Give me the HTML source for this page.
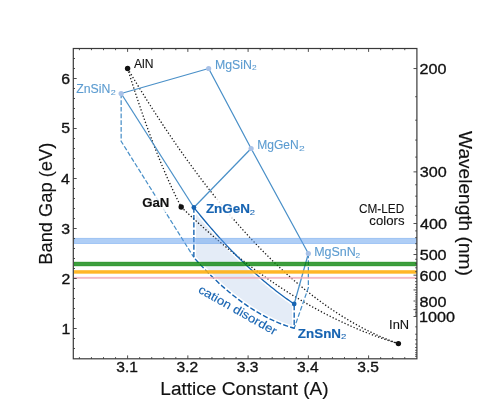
<!DOCTYPE html><html><head><meta charset="utf-8"><style>html,body{margin:0;padding:0;background:#fff;overflow:hidden}svg{display:block;will-change:transform}</style></head><body><svg width="480" height="403" viewBox="0 0 480 403"><rect x="0" y="0" width="480" height="403" fill="#fff"/>
<defs><clipPath id="ax"><rect x="73.3" y="48.5" width="343.6" height="310.3"/></clipPath></defs>
<g clip-path="url(#ax)">
<path d="M193.87 207.50 L195.55 209.58 L197.22 211.65 L198.89 213.70 L200.56 215.74 L202.23 217.76 L203.91 219.76 L205.58 221.75 L207.25 223.72 L208.92 225.67 L210.59 227.61 L212.27 229.53 L213.94 231.44 L215.61 233.33 L217.28 235.20 L218.95 237.06 L220.63 238.90 L222.30 240.73 L223.97 242.54 L225.64 244.33 L227.31 246.11 L228.99 247.87 L230.66 249.62 L232.33 251.35 L234.00 253.06 L235.67 254.76 L237.35 256.44 L239.02 258.10 L240.69 259.75 L242.36 261.38 L244.03 263.00 L245.71 264.60 L247.38 266.18 L249.05 267.75 L250.72 269.30 L252.39 270.84 L254.06 272.36 L255.74 273.86 L257.41 275.35 L259.08 276.82 L260.75 278.28 L262.42 279.72 L264.10 281.14 L265.77 282.55 L267.44 283.94 L269.11 285.31 L270.78 286.67 L272.46 288.01 L274.13 289.34 L275.80 290.65 L277.47 291.94 L279.14 293.22 L280.82 294.48 L282.49 295.73 L284.16 296.96 L285.83 298.17 L287.50 299.37 L289.18 300.55 L290.85 301.72 L292.52 302.87 L294.19 304.00 L294.19 328.25 L292.52 327.77 L290.85 327.26 L289.18 326.73 L287.50 326.18 L285.83 325.60 L284.16 325.00 L282.49 324.38 L280.82 323.73 L279.14 323.06 L277.47 322.36 L275.80 321.64 L274.13 320.90 L272.46 320.13 L270.78 319.34 L269.11 318.53 L267.44 317.69 L265.77 316.83 L264.10 315.95 L262.42 315.04 L260.75 314.11 L259.08 313.16 L257.41 312.18 L255.74 311.18 L254.06 310.15 L252.39 309.10 L250.72 308.03 L249.05 306.93 L247.38 305.81 L245.71 304.67 L244.03 303.50 L242.36 302.31 L240.69 301.09 L239.02 299.86 L237.35 298.59 L235.67 297.31 L234.00 296.00 L232.33 294.67 L230.66 293.31 L228.99 291.93 L227.31 290.53 L225.64 289.10 L223.97 287.65 L222.30 286.18 L220.63 284.68 L218.95 283.16 L217.28 281.61 L215.61 280.04 L213.94 278.45 L212.27 276.83 L210.59 275.19 L208.92 273.53 L207.25 271.84 L205.58 270.13 L203.91 268.40 L202.23 266.64 L200.56 264.86 L198.89 263.06 L197.22 261.23 L195.55 259.38 L193.87 257.50 Z" fill="#e4ecf7" stroke="#fff" stroke-width="4.4" stroke-linejoin="round"/>
<path d="M127.60 68.50 L128.49 71.38 L129.39 74.24 L130.28 77.09 L131.17 79.91 L132.07 82.72 L132.96 85.50 L133.86 88.27 L134.75 91.01 L135.64 93.74 L136.54 96.44 L137.43 99.13 L138.32 101.80 L139.22 104.45 L140.11 107.08 L141.01 109.69 L141.90 112.28 L142.79 114.85 L143.69 117.40 L144.58 119.93 L145.47 122.44 L146.37 124.94 L147.26 127.41 L148.16 129.87 L149.05 132.30 L149.94 134.72 L150.84 137.11 L151.73 139.49 L152.62 141.84 L153.52 144.18 L154.41 146.50 L155.30 148.80 L156.20 151.08 L157.09 153.34 L157.99 155.58 L158.88 157.80 L159.77 160.00 L160.67 162.18 L161.56 164.34 L162.45 166.49 L163.35 168.61 L164.24 170.72 L165.14 172.80 L166.03 174.87 L166.92 176.91 L167.82 178.94 L168.71 180.94 L169.60 182.93 L170.50 184.90 L171.39 186.85 L172.29 188.78 L173.18 190.69 L174.07 192.58 L174.97 194.45 L175.86 196.30 L176.75 198.13 L177.65 199.94 L178.54 201.74 L179.44 203.51 L180.33 205.27 L181.22 207.00" stroke="#1a1a1a" stroke-width="1.3" stroke-dasharray="1.3 2.0" fill="none"/>
<path d="M127.60 68.50 L129.86 72.29 L132.11 76.05 L134.37 79.79 L136.63 83.50 L138.88 87.19 L141.14 90.85 L143.40 94.49 L145.65 98.10 L147.91 101.69 L150.17 105.25 L152.43 108.79 L154.68 112.30 L156.94 115.79 L159.20 119.25 L161.45 122.68 L163.71 126.10 L165.97 129.48 L168.22 132.84 L170.48 136.18 L172.74 139.49 L174.99 142.77 L177.25 146.03 L179.51 149.27 L181.76 152.48 L184.02 155.66 L186.28 158.82 L188.54 161.96 L190.79 165.07 L193.05 168.15 L195.31 171.21 L197.56 174.25 L199.82 177.26 L202.08 180.24 L204.33 183.20 L206.59 186.13 L208.85 189.04 L211.10 191.92 L213.36 194.78 L215.62 197.61 L217.87 200.42 L220.13 203.20 L222.39 205.96 L224.65 208.69 L226.90 211.40 L229.16 214.08 L231.42 216.74 L233.67 219.37 L235.93 221.98 L238.19 224.56 L240.44 227.12 L242.70 229.65 L244.96 232.16 L247.21 234.64 L249.47 237.09 L251.73 239.52 L253.98 241.93 L256.24 244.31 L258.50 246.66 L260.76 248.99 L263.01 251.30 L265.27 253.58 L267.53 255.83 L269.78 258.06 L272.04 260.27 L274.30 262.45 L276.55 264.60 L278.81 266.73 L281.07 268.84 L283.32 270.91 L285.58 272.97 L287.84 275.00 L290.09 277.00 L292.35 278.98 L294.61 280.93 L296.86 282.86 L299.12 284.76 L301.38 286.64 L303.64 288.49 L305.89 290.32 L308.15 292.12 L310.41 293.90 L312.66 295.65 L314.92 297.38 L317.18 299.08 L319.43 300.76 L321.69 302.41 L323.95 304.03 L326.20 305.64 L328.46 307.21 L330.72 308.76 L332.97 310.29 L335.23 311.79 L337.49 313.26 L339.75 314.71 L342.00 316.14 L344.26 317.54 L346.52 318.91 L348.77 320.26 L351.03 321.59 L353.29 322.89 L355.54 324.16 L357.80 325.41 L360.06 326.64 L362.31 327.84 L364.57 329.01 L366.83 330.16 L369.08 331.28 L371.34 332.38 L373.60 333.45 L375.86 334.50 L378.11 335.52 L380.37 336.52 L382.63 337.49 L384.88 338.44 L387.14 339.36 L389.40 340.26 L391.65 341.13 L393.91 341.98 L396.17 342.80 L398.42 343.60" stroke="#1a1a1a" stroke-width="1.3" stroke-dasharray="1.3 2.0" fill="none"/>
<path d="M181.22 207.00 L183.03 208.74 L184.84 210.46 L186.65 212.18 L188.46 213.89 L190.27 215.59 L192.08 217.27 L193.89 218.95 L195.70 220.62 L197.51 222.27 L199.32 223.92 L201.13 225.56 L202.94 227.19 L204.75 228.80 L206.56 230.41 L208.37 232.00 L210.18 233.59 L211.99 235.17 L213.80 236.73 L215.61 238.29 L217.42 239.84 L219.23 241.37 L221.04 242.90 L222.85 244.41 L224.66 245.92 L226.47 247.42 L228.28 248.90 L230.09 250.38 L231.90 251.84 L233.71 253.30 L235.52 254.74 L237.33 256.18 L239.14 257.60 L240.95 259.02 L242.76 260.42 L244.57 261.82 L246.38 263.20 L248.19 264.58 L250.00 265.94 L251.81 267.30 L253.62 268.64 L255.43 269.98 L257.24 271.30 L259.05 272.62 L260.86 273.92 L262.67 275.22 L264.48 276.50 L266.29 277.78 L268.10 279.04 L269.91 280.29 L271.72 281.54 L273.53 282.77 L275.34 284.00 L277.15 285.21 L278.96 286.41 L280.77 287.61 L282.58 288.79 L284.39 289.96 L286.20 291.13 L288.01 292.28 L289.82 293.43 L291.63 294.56 L293.44 295.68 L295.25 296.79 L297.06 297.90 L298.87 298.99 L300.68 300.07 L302.49 301.15 L304.30 302.21 L306.11 303.26 L307.92 304.30 L309.73 305.34 L311.54 306.36 L313.35 307.37 L315.16 308.37 L316.97 309.37 L318.78 310.35 L320.59 311.32 L322.40 312.28 L324.21 313.24 L326.02 314.18 L327.83 315.11 L329.64 316.03 L331.45 316.94 L333.26 317.84 L335.07 318.74 L336.88 319.62 L338.69 320.49 L340.50 321.35 L342.31 322.20 L344.12 323.04 L345.93 323.87 L347.74 324.70 L349.55 325.51 L351.36 326.31 L353.17 327.10 L354.98 327.88 L356.79 328.65 L358.60 329.41 L360.41 330.16 L362.22 330.90 L364.03 331.63 L365.84 332.35 L367.65 333.06 L369.46 333.76 L371.27 334.45 L373.08 335.13 L374.89 335.80 L376.70 336.46 L378.51 337.11 L380.32 337.75 L382.13 338.38 L383.94 339.00 L385.75 339.61 L387.56 340.21 L389.37 340.80 L391.18 341.38 L392.99 341.95 L394.80 342.51 L396.61 343.06 L398.42 343.60" stroke="#1a1a1a" stroke-width="1.3" stroke-dasharray="1.3 2.0" fill="none"/>
<path d="M121.15 93.50 L208.64 68.50 L251.11 148.50 L308.35 253.50" stroke="#4a90c8" stroke-width="1.25" fill="none" stroke-linejoin="round"/>
<path d="M121.15 93.50 L193.87 207.50" stroke="#4a90c8" stroke-width="1.25" fill="none" stroke-linejoin="round"/>
<path d="M193.87 207.50 L251.11 148.50" stroke="#4a90c8" stroke-width="1.25" fill="none" stroke-linejoin="round"/>
<path d="M294.19 304.00 L308.35 253.50" stroke="#4a90c8" stroke-width="1.25" fill="none" stroke-linejoin="round"/>
<path d="M121.15 93.50 L121.15 141.25 L193.87 257.50" stroke="#4a90c8" stroke-width="1.25" stroke-dasharray="4.7 2.0" fill="none"/>
<path d="M308.35 253.50 L308.35 287.70 L294.19 328.25" stroke="#4a90c8" stroke-width="1.25" stroke-dasharray="4.7 2.0" fill="none"/>
<path d="M193.87 207.50 L195.55 209.58 L197.22 211.65 L198.89 213.70 L200.56 215.74 L202.23 217.76 L203.91 219.76 L205.58 221.75 L207.25 223.72 L208.92 225.67 L210.59 227.61 L212.27 229.53 L213.94 231.44 L215.61 233.33 L217.28 235.20 L218.95 237.06 L220.63 238.90 L222.30 240.73 L223.97 242.54 L225.64 244.33 L227.31 246.11 L228.99 247.87 L230.66 249.62 L232.33 251.35 L234.00 253.06 L235.67 254.76 L237.35 256.44 L239.02 258.10 L240.69 259.75 L242.36 261.38 L244.03 263.00 L245.71 264.60 L247.38 266.18 L249.05 267.75 L250.72 269.30 L252.39 270.84 L254.06 272.36 L255.74 273.86 L257.41 275.35 L259.08 276.82 L260.75 278.28 L262.42 279.72 L264.10 281.14 L265.77 282.55 L267.44 283.94 L269.11 285.31 L270.78 286.67 L272.46 288.01 L274.13 289.34 L275.80 290.65 L277.47 291.94 L279.14 293.22 L280.82 294.48 L282.49 295.73 L284.16 296.96 L285.83 298.17 L287.50 299.37 L289.18 300.55 L290.85 301.72 L292.52 302.87 L294.19 304.00" stroke="#1764b2" stroke-width="1.3" fill="none"/>
<path d="M193.87 207.50 L193.87 257.50 L195.55 259.38 L197.22 261.23 L198.89 263.06 L200.56 264.86 L202.23 266.64 L203.91 268.40 L205.58 270.13 L207.25 271.84 L208.92 273.53 L210.59 275.19 L212.27 276.83 L213.94 278.45 L215.61 280.04 L217.28 281.61 L218.95 283.16 L220.63 284.68 L222.30 286.18 L223.97 287.65 L225.64 289.10 L227.31 290.53 L228.99 291.93 L230.66 293.31 L232.33 294.67 L234.00 296.00 L235.67 297.31 L237.35 298.59 L239.02 299.86 L240.69 301.09 L242.36 302.31 L244.03 303.50 L245.71 304.67 L247.38 305.81 L249.05 306.93 L250.72 308.03 L252.39 309.10 L254.06 310.15 L255.74 311.18 L257.41 312.18 L259.08 313.16 L260.75 314.11 L262.42 315.04 L264.10 315.95 L265.77 316.83 L267.44 317.69 L269.11 318.53 L270.78 319.34 L272.46 320.13 L274.13 320.90 L275.80 321.64 L277.47 322.36 L279.14 323.06 L280.82 323.73 L282.49 324.38 L284.16 325.00 L285.83 325.60 L287.50 326.18 L289.18 326.73 L290.85 327.26 L292.52 327.77 L294.19 328.25 L294.19 304.00" stroke="#1764b2" stroke-width="1.4" stroke-dasharray="5.2 2.2" fill="none" stroke-linejoin="round"/>
<rect x="74.30" y="238.30" width="342.20" height="5.30" fill="rgb(96,158,238)" fill-opacity="0.50" stroke="rgb(96,158,238)" stroke-opacity="0.50" stroke-width="0.80"/>
<rect x="74.30" y="262.20" width="342.20" height="3.60" fill="rgb(0,128,0)" fill-opacity="0.76" stroke="rgb(0,128,0)" stroke-opacity="0.76" stroke-width="0.80"/>
<rect x="74.30" y="270.70" width="342.20" height="2.50" fill="rgb(255,176,20)" fill-opacity="0.90" stroke="rgb(255,176,20)" stroke-opacity="0.90" stroke-width="0.80"/>
<rect x="74.30" y="277.30" width="342.20" height="1.00" fill="rgb(240,170,185)" fill-opacity="0.75" stroke="rgb(240,170,185)" stroke-opacity="0.75" stroke-width="0.80"/>
<circle cx="121.15" cy="93.50" r="2.6" fill="#a9c2e8"/>
<circle cx="208.64" cy="68.50" r="2.6" fill="#a9c2e8"/>
<circle cx="251.11" cy="148.50" r="2.6" fill="#a9c2e8"/>
<circle cx="308.35" cy="253.50" r="2.6" fill="#a9c2e8"/>
<circle cx="193.87" cy="207.50" r="2.4" fill="#1764b2"/>
<circle cx="294.19" cy="304.00" r="2.4" fill="#1764b2"/>
<circle cx="127.60" cy="68.50" r="2.7" fill="#111111"/>
<circle cx="181.22" cy="207.00" r="2.7" fill="#111111"/>
<circle cx="398.42" cy="343.60" r="2.7" fill="#111111"/>
</g>
<rect x="73.3" y="48.5" width="343.6" height="310.3" fill="none" stroke="#3a3a3a" stroke-width="1.2"/>
<path d="M79.40 358.80 v-1.7 M79.40 48.50 v1.7 M91.45 358.80 v-1.7 M91.45 48.50 v1.7 M103.50 358.80 v-1.7 M103.50 48.50 v1.7 M115.55 358.80 v-1.7 M115.55 48.50 v1.7 M127.60 358.80 v-3.4 M127.60 48.50 v3.4 M139.65 358.80 v-1.7 M139.65 48.50 v1.7 M151.70 358.80 v-1.7 M151.70 48.50 v1.7 M163.75 358.80 v-1.7 M163.75 48.50 v1.7 M175.80 358.80 v-1.7 M175.80 48.50 v1.7 M187.85 358.80 v-3.4 M187.85 48.50 v3.4 M199.90 358.80 v-1.7 M199.90 48.50 v1.7 M211.95 358.80 v-1.7 M211.95 48.50 v1.7 M224.00 358.80 v-1.7 M224.00 48.50 v1.7 M236.05 358.80 v-1.7 M236.05 48.50 v1.7 M248.10 358.80 v-3.4 M248.10 48.50 v3.4 M260.15 358.80 v-1.7 M260.15 48.50 v1.7 M272.20 358.80 v-1.7 M272.20 48.50 v1.7 M284.25 358.80 v-1.7 M284.25 48.50 v1.7 M296.30 358.80 v-1.7 M296.30 48.50 v1.7 M308.35 358.80 v-3.4 M308.35 48.50 v3.4 M320.40 358.80 v-1.7 M320.40 48.50 v1.7 M332.45 358.80 v-1.7 M332.45 48.50 v1.7 M344.50 358.80 v-1.7 M344.50 48.50 v1.7 M356.55 358.80 v-1.7 M356.55 48.50 v1.7 M368.60 358.80 v-3.4 M368.60 48.50 v3.4 M380.65 358.80 v-1.7 M380.65 48.50 v1.7 M392.70 358.80 v-1.7 M392.70 48.50 v1.7 M404.75 358.80 v-1.7 M404.75 48.50 v1.7 M73.30 348.50 h1.7 M73.30 338.50 h1.7 M73.30 328.50 h3.4 M73.30 318.50 h1.7 M73.30 308.50 h1.7 M73.30 298.50 h1.7 M73.30 288.50 h1.7 M73.30 278.50 h3.4 M73.30 268.50 h1.7 M73.30 258.50 h1.7 M73.30 248.50 h1.7 M73.30 238.50 h1.7 M73.30 228.50 h3.4 M73.30 218.50 h1.7 M73.30 208.50 h1.7 M73.30 198.50 h1.7 M73.30 188.50 h1.7 M73.30 178.50 h3.4 M73.30 168.50 h1.7 M73.30 158.50 h1.7 M73.30 148.50 h1.7 M73.30 138.50 h1.7 M73.30 128.50 h3.4 M73.30 118.50 h1.7 M73.30 108.50 h1.7 M73.30 98.50 h1.7 M73.30 88.50 h1.7 M73.30 78.50 h3.4 M73.30 68.50 h1.7 M73.30 58.50 h1.7 M416.90 68.54 h-3.4 M416.90 96.72 h-1.7 M416.90 120.20 h-1.7 M416.90 140.07 h-1.7 M416.90 157.10 h-1.7 M416.90 171.86 h-3.4 M416.90 184.78 h-1.7 M416.90 196.17 h-1.7 M416.90 206.30 h-1.7 M416.90 215.36 h-1.7 M416.90 223.52 h-3.4 M416.90 230.90 h-1.7 M416.90 237.61 h-1.7 M416.90 243.73 h-1.7 M416.90 249.35 h-1.7 M416.90 254.52 h-3.4 M416.90 259.28 h-1.7 M416.90 263.70 h-1.7 M416.90 267.80 h-1.7 M416.90 271.62 h-1.7 M416.90 275.18 h-3.4 M416.90 278.51 h-1.7 M416.90 281.64 h-1.7 M416.90 284.57 h-1.7 M416.90 287.34 h-1.7 M416.90 289.94 h-3.4 M416.90 292.40 h-1.7 M416.90 294.73 h-1.7 M416.90 296.93 h-1.7 M416.90 299.02 h-1.7 M416.90 301.01 h-3.4 M416.90 302.90 h-1.7 M416.90 304.70 h-1.7 M416.90 306.42 h-1.7 M416.90 308.05 h-1.7 M416.90 309.62 h-3.4 M416.90 311.12 h-1.7 M416.90 312.55 h-1.7 M416.90 313.93 h-1.7 M416.90 315.24 h-1.7 M416.90 316.51 h-3.4 M416.90 326.84 h-1.7 M416.90 334.22 h-1.7 M416.90 339.75 h-1.7 M416.90 344.06 h-1.7 M416.90 347.50 h-1.7 M416.90 350.32 h-1.7 M416.90 352.67 h-1.7 M416.90 354.66 h-1.7 M416.90 356.36 h-1.7" stroke="#3a3a3a" stroke-width="0.9" fill="none"/>
<text x="61.45" y="333.56" font-size="14.70" fill="#111111" stroke="#111111" stroke-width="0.32" textLength="8.83" lengthAdjust="spacingAndGlyphs" font-family="'Liberation Sans', sans-serif">1</text>
<text x="61.47" y="283.63" font-size="14.70" fill="#111111" stroke="#111111" stroke-width="0.32" textLength="8.83" lengthAdjust="spacingAndGlyphs" font-family="'Liberation Sans', sans-serif">2</text>
<text x="61.37" y="233.56" font-size="14.70" fill="#111111" stroke="#111111" stroke-width="0.32" textLength="8.83" lengthAdjust="spacingAndGlyphs" font-family="'Liberation Sans', sans-serif">3</text>
<text x="61.14" y="183.56" font-size="14.70" fill="#111111" stroke="#111111" stroke-width="0.32" textLength="8.83" lengthAdjust="spacingAndGlyphs" font-family="'Liberation Sans', sans-serif">4</text>
<text x="61.34" y="133.48" font-size="14.70" fill="#111111" stroke="#111111" stroke-width="0.32" textLength="8.83" lengthAdjust="spacingAndGlyphs" font-family="'Liberation Sans', sans-serif">5</text>
<text x="61.37" y="83.56" font-size="14.70" fill="#111111" stroke="#111111" stroke-width="0.32" textLength="8.83" lengthAdjust="spacingAndGlyphs" font-family="'Liberation Sans', sans-serif">6</text>
<text x="116.35" y="372.36" font-size="14.70" fill="#111111" stroke="#111111" stroke-width="0.32" textLength="21.66" lengthAdjust="spacingAndGlyphs" font-family="'Liberation Sans', sans-serif">3.1</text>
<text x="176.61" y="372.36" font-size="14.70" fill="#111111" stroke="#111111" stroke-width="0.32" textLength="21.66" lengthAdjust="spacingAndGlyphs" font-family="'Liberation Sans', sans-serif">3.2</text>
<text x="236.82" y="372.36" font-size="14.70" fill="#111111" stroke="#111111" stroke-width="0.32" textLength="21.66" lengthAdjust="spacingAndGlyphs" font-family="'Liberation Sans', sans-serif">3.3</text>
<text x="296.95" y="372.36" font-size="14.70" fill="#111111" stroke="#111111" stroke-width="0.32" textLength="21.66" lengthAdjust="spacingAndGlyphs" font-family="'Liberation Sans', sans-serif">3.4</text>
<text x="357.30" y="372.36" font-size="14.70" fill="#111111" stroke="#111111" stroke-width="0.32" textLength="21.66" lengthAdjust="spacingAndGlyphs" font-family="'Liberation Sans', sans-serif">3.5</text>
<text x="419.49" y="74.10" font-size="14.70" fill="#111111" stroke="#111111" stroke-width="0.32" textLength="26.98" lengthAdjust="spacingAndGlyphs" font-family="'Liberation Sans', sans-serif">200</text>
<text x="419.68" y="177.42" font-size="14.70" fill="#111111" stroke="#111111" stroke-width="0.32" textLength="26.98" lengthAdjust="spacingAndGlyphs" font-family="'Liberation Sans', sans-serif">300</text>
<text x="419.93" y="229.08" font-size="14.70" fill="#111111" stroke="#111111" stroke-width="0.32" textLength="26.98" lengthAdjust="spacingAndGlyphs" font-family="'Liberation Sans', sans-serif">400</text>
<text x="419.65" y="260.08" font-size="14.70" fill="#111111" stroke="#111111" stroke-width="0.32" textLength="26.98" lengthAdjust="spacingAndGlyphs" font-family="'Liberation Sans', sans-serif">500</text>
<text x="419.48" y="280.74" font-size="14.70" fill="#111111" stroke="#111111" stroke-width="0.32" textLength="26.98" lengthAdjust="spacingAndGlyphs" font-family="'Liberation Sans', sans-serif">600</text>
<text x="419.60" y="306.57" font-size="14.70" fill="#111111" stroke="#111111" stroke-width="0.32" textLength="26.98" lengthAdjust="spacingAndGlyphs" font-family="'Liberation Sans', sans-serif">800</text>
<text x="419.07" y="322.07" font-size="14.70" fill="#111111" stroke="#111111" stroke-width="0.32" textLength="35.97" lengthAdjust="spacingAndGlyphs" font-family="'Liberation Sans', sans-serif">1000</text>
<text x="160.34" y="394.90" font-size="18.80" fill="#111111" stroke="#111111" stroke-width="0.15" textLength="168.34" lengthAdjust="spacingAndGlyphs" font-family="'Liberation Sans', sans-serif">Lattice Constant (A)</text>
<g transform="translate(0,0)">
<text transform="translate(52.3,264.70) rotate(-90)" font-size="18.80" fill="#111111" stroke="#111111" stroke-width="0.15" font-family="'Liberation Sans', sans-serif" textLength="122.04" lengthAdjust="spacingAndGlyphs">Band Gap (eV)</text>
<text transform="translate(459.1,131.12) rotate(90)" font-size="18.80" fill="#111111" stroke="#111111" stroke-width="0.15" font-family="'Liberation Sans', sans-serif" textLength="144.66" lengthAdjust="spacingAndGlyphs">Wavelength (nm)</text>
</g>
<rect x="141" y="196.5" width="29" height="15.5" fill="#fff" fill-opacity="0.8"/>
<rect x="204.5" y="198.5" width="52.5" height="19.5" fill="#fff" fill-opacity="0.85"/>
<text x="133.88" y="68.20" font-size="12.30" fill="#111111" stroke="#111111" stroke-width="0.10" textLength="19.51" lengthAdjust="spacingAndGlyphs" font-family="'Liberation Sans', sans-serif">AlN</text>
<text x="389.11" y="328.60" font-size="12.30" fill="#111111" stroke="#111111" stroke-width="0.10" textLength="20.04" lengthAdjust="spacingAndGlyphs" font-family="'Liberation Sans', sans-serif">InN</text>
<text x="359.00" y="212.60" font-size="12.30" fill="#111111" stroke="#111111" stroke-width="0.10" textLength="45.26" lengthAdjust="spacingAndGlyphs" font-family="'Liberation Sans', sans-serif">CM-LED</text>
<text x="369.34" y="225.40" font-size="12.60" fill="#111111" stroke="#111111" stroke-width="0.10" textLength="35.14" lengthAdjust="spacingAndGlyphs" font-family="'Liberation Sans', sans-serif">colors</text>
<text x="142.21" y="206.90" font-size="12.30" fill="#111111" stroke="#111111" stroke-width="0.15" textLength="27.18" lengthAdjust="spacingAndGlyphs" font-weight="bold" font-family="'Liberation Sans', sans-serif">GaN</text>
<text x="76.21" y="93.00" font-size="12.30" fill="#5b9bd0" stroke="#5b9bd0" stroke-width="0.10" textLength="34.09" lengthAdjust="spacingAndGlyphs" font-family="'Liberation Sans', sans-serif">ZnSiN</text>
<text x="110.75" y="94.80" font-size="7.20" fill="#5b9bd0" stroke="#5b9bd0" stroke-width="0.06" textLength="5.01" lengthAdjust="spacingAndGlyphs" font-family="'Liberation Sans', sans-serif">2</text>
<text x="214.99" y="68.50" font-size="12.30" fill="#5b9bd0" stroke="#5b9bd0" stroke-width="0.10" textLength="37.02" lengthAdjust="spacingAndGlyphs" font-family="'Liberation Sans', sans-serif">MgSiN</text>
<text x="252.08" y="70.00" font-size="7.20" fill="#5b9bd0" stroke="#5b9bd0" stroke-width="0.06" textLength="4.64" lengthAdjust="spacingAndGlyphs" font-family="'Liberation Sans', sans-serif">2</text>
<text x="257.26" y="149.00" font-size="12.30" fill="#5b9bd0" stroke="#5b9bd0" stroke-width="0.10" textLength="41.52" lengthAdjust="spacingAndGlyphs" font-family="'Liberation Sans', sans-serif">MgGeN</text>
<text x="299.08" y="150.60" font-size="7.20" fill="#5b9bd0" stroke="#5b9bd0" stroke-width="0.06" textLength="5.74" lengthAdjust="spacingAndGlyphs" font-family="'Liberation Sans', sans-serif">2</text>
<text x="314.23" y="255.90" font-size="12.30" fill="#5b9bd0" stroke="#5b9bd0" stroke-width="0.10" textLength="41.59" lengthAdjust="spacingAndGlyphs" font-family="'Liberation Sans', sans-serif">MgSnN</text>
<text x="355.48" y="258.10" font-size="7.20" fill="#5b9bd0" stroke="#5b9bd0" stroke-width="0.06" textLength="4.64" lengthAdjust="spacingAndGlyphs" font-family="'Liberation Sans', sans-serif">2</text>
<text x="205.90" y="212.60" font-size="12.30" fill="#1764b2" stroke="#1764b2" stroke-width="0.15" textLength="44.11" lengthAdjust="spacingAndGlyphs" font-weight="bold" font-family="'Liberation Sans', sans-serif">ZnGeN</text>
<text x="249.83" y="214.60" font-size="7.20" fill="#1764b2" stroke="#1764b2" stroke-width="0.06" textLength="5.25" lengthAdjust="spacingAndGlyphs" font-family="'Liberation Sans', sans-serif">2</text>
<text x="297.85" y="337.50" font-size="12.30" fill="#1764b2" stroke="#1764b2" stroke-width="0.15" textLength="43.15" lengthAdjust="spacingAndGlyphs" font-weight="bold" font-family="'Liberation Sans', sans-serif">ZnSnN</text>
<text x="340.92" y="339.40" font-size="7.20" fill="#1764b2" stroke="#1764b2" stroke-width="0.06" textLength="5.31" lengthAdjust="spacingAndGlyphs" font-family="'Liberation Sans', sans-serif">2</text>
<text transform="translate(197.5,292) rotate(29.5)" font-size="12" fill="#1764b2" stroke="#1764b2" stroke-width="0.12" font-family="'Liberation Sans', sans-serif" textLength="88" lengthAdjust="spacingAndGlyphs">cation disorder</text></svg></body></html>
